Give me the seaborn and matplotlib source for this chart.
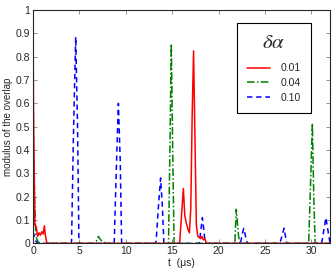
import numpy as np
import pandas as pd
import matplotlib
matplotlib.use("Agg")
import matplotlib.pyplot as plt
import seaborn as sns

# overlap curves (t in microseconds)
t_001 = [0, 0.05, 0.2, 0.35, 0.5, 0.65, 0.8, 0.95, 1.1, 1.22, 1.35, 1.5,
         15.8, 16.0, 16.2, 16.35, 16.5, 16.7, 16.85, 17.0, 17.15, 17.3, 17.45,
         17.6, 17.75, 17.9, 18.05, 18.2, 18.35, 18.5, 18.7, 32]
v_001 = [1.0, 0.6, 0.08, 0.07, 0.03, 0.045, 0.035, 0.05, 0.04, 0.075, 0.03, 0.0,
         0.0, 0.12, 0.235, 0.12, 0.09, 0.06, 0.045, 0.15, 0.55, 0.825, 0.45,
         0.08, 0.03, 0.025, 0.02, 0.03, 0.015, 0.02, 0.0, 0.0]

t_004 = [0, 0.1, 0.3, 0.5, 0.7, 6.7, 6.9, 7.05, 7.2, 7.4, 7.6, 7.8, 8.0,
         14.6, 14.75, 14.9, 15.05, 15.2, 21.75, 21.9, 22.0, 22.15, 22.3,
         29.7, 29.9, 30.1, 30.25, 30.4, 32]
v_004 = [0.32, 0.3, 0.03, 0.01, 0.0, 0.0, 0.015, 0.03, 0.02, 0.01, 0.005, 0.003, 0.0,
         0.0, 0.4, 0.855, 0.4, 0.0, 0.0, 0.146, 0.1, 0.03, 0.0,
         0.0, 0.25, 0.515, 0.2, 0.0, 0.0]

t_010 = [0, 0.15, 0.3, 0.5, 4.15, 4.35, 4.6, 4.8, 4.95, 8.75, 9.0, 9.2, 9.4, 9.55,
         13.25, 13.5, 13.75, 13.95, 14.1, 17.9, 18.1, 18.25, 18.4, 18.55,
         22.35, 22.55, 22.7, 22.9, 23.1, 26.6, 26.85, 27.05, 27.2, 27.35,
         31.1, 31.35, 31.55, 31.8, 32]
v_010 = [0.05, 0.03, 0.01, 0.0, 0.0, 0.45, 0.885, 0.5, 0.0, 0.0, 0.35, 0.6, 0.35, 0.0,
         0.0, 0.15, 0.28, 0.15, 0.0, 0.0, 0.06, 0.11, 0.06, 0.0,
         0.0, 0.04, 0.064, 0.03, 0.0, 0.0, 0.035, 0.065, 0.03, 0.0,
         0.0, 0.06, 0.11, 0.05, 0.0]

labels = ["0.01", "0.04", "0.10"]
colors = ["#ff0000", "#008000", "#0000ff"]

sns.set_style("ticks")
plt.rcParams['font.family'] = ['Liberation Sans', 'DejaVu Sans']
plt.rcParams['mathtext.fontset'] = 'stix'

fig = plt.figure(figsize=(3.32, 2.71), dpi=100)
ax = fig.add_axes([0.0994, 0.102, 0.8946, 0.861])

series = [(t_010, v_010, labels[2], colors[2], (0, (3.5, 2.5))),
          (t_004, v_004, labels[1], colors[1], (0, (5, 1.5, 1, 1.5))),
          (t_001, v_001, labels[0], colors[0], "-")]
handles = {}
for t, v, lab, col, ls in series:
    df = pd.DataFrame({"t": t, "v": v})
    sns.lineplot(data=df, x="t", y="v", ax=ax, color=col, lw=1.1,
                 estimator=None, sort=False)
    line = ax.lines[-1]
    line.set_linestyle(ls)
    handles[lab] = line

ax.set_xlim(0, 32)
ax.set_ylim(0, 1)
ax.set_xticks([0, 5, 10, 15, 20, 25, 30])
ax.set_yticks(np.arange(0, 1.01, 0.1))
ax.set_yticklabels(["0", "0.1", "0.2", "0.3", "0.4", "0.5", "0.6", "0.7", "0.8", "0.9", "1"])
ax.tick_params(direction="in", length=3, width=0.5, labelsize=7.5, top=True, right=True,
               pad=2, color="#666666")
for sp in ax.spines.values():
    sp.set_linewidth(0.8)
ax.set_xlabel("t  (\u03bcs)", fontsize=7.5, labelpad=1)
ax.set_ylabel("modulus of the overlap", fontsize=7, labelpad=2)

leg = ax.legend([handles[l] for l in labels], labels, title="$\\delta\\alpha$",
                loc="upper left", bbox_to_anchor=(0.686, 0.945), fontsize=7.5,
                title_fontsize=15, fancybox=False, framealpha=1, edgecolor="black",
                handlelength=2.2, handletextpad=1.0, borderpad=1.0,
                labelspacing=0.45, borderaxespad=0)
leg.get_frame().set_linewidth(0.8)
leg._legend_box.sep = 8

fig.savefig("out.png", dpi=100)
